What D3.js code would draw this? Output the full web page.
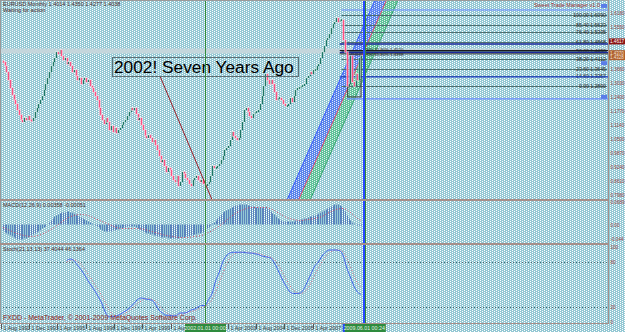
<!DOCTYPE html>
<html><head><meta charset="utf-8">
<script src="https://cdn.jsdelivr.net/npm/d3@7"></script>
<style>html,body{margin:0;padding:0;background:#fff;overflow:hidden}svg{display:block}</style>
</head><body>
<script>
// ---------------- DATA ----------------
// Monthly EURUSD closes, Jul 1992 .. Jun 2009 (index 0..202)
const firstOpen = 1.40;
const closes = [1.397,1.379,1.352,1.316,1.280,1.249,1.226,1.208,1.181,1.159,
1.136,1.127,1.145,1.136,1.154,1.136,1.132,1.145,1.172,1.190,
1.208,1.226,1.244,1.271,1.298,1.325,1.352,1.379,1.397,1.415,
1.442,1.433,1.451,1.424,1.406,1.415,1.388,1.397,1.379,1.352,
1.361,1.334,1.316,1.325,1.298,1.316,1.325,1.307,1.316,1.289,
1.280,1.262,1.244,1.226,1.190,1.159,1.136,1.118,1.145,1.127,
1.091,1.109,1.082,1.100,1.077,1.091,1.100,1.114,1.127,1.136,
1.154,1.172,1.190,1.181,1.190,1.163,1.136,1.145,1.114,1.091,
1.064,1.055,1.068,1.055,1.037,1.046,1.023,1.001,0.974,0.947,
0.956,0.929,0.902,0.920,0.911,0.884,0.866,0.857,0.884,0.839,
0.857,0.902,0.893,0.875,0.866,0.848,0.839,0.866,0.875,0.884,
0.866,0.857,0.866,0.848,0.839,0.848,0.857,0.884,0.929,0.920,
0.920,0.929,0.938,0.956,0.974,1.001,1.010,1.019,1.046,1.082,
1.064,1.055,1.046,1.055,1.091,1.127,1.181,1.190,1.172,1.154,
1.145,1.163,1.172,1.172,1.181,1.208,1.244,1.289,1.343,1.316,
1.298,1.316,1.298,1.262,1.226,1.235,1.235,1.226,1.208,1.199,
1.199,1.208,1.235,1.217,1.244,1.271,1.280,1.280,1.289,1.289,
1.298,1.325,1.334,1.352,1.343,1.361,1.361,1.379,1.388,1.415,
1.442,1.469,1.496,1.505,1.523,1.550,1.568,1.577,1.595,1.577,
1.586,1.586,1.496,1.442,1.289,1.298,1.424,1.307,1.289,1.343,
1.316,1.415,1.424];

// MACD main (histogram), in thousandths
const macdHist = [-18,-24,-27,-30,-33,-36,-39,-42,-45,-45,-45,-45,
-42,-42,-39,-36,-33,-30,-27,-24,-21,-18,-12,-9,
-6,0,6,12,18,24,27,30,33,36,36,36,
39,39,36,36,33,30,27,24,21,18,15,12,
9,6,3,0,-3,-6,-9,-15,-18,-21,-21,-21,
-21,-21,-18,-18,-15,-15,-12,-12,-9,-9,-6,-6,
-6,-6,-6,-9,-12,-15,-18,-21,-24,-27,-27,-30,
-30,-33,-33,-36,-36,-39,-39,-39,-39,-42,-42,-42,
-42,-42,-42,-42,-39,-39,-39,-36,-36,-36,-33,-33,
-30,-30,-27,-27,-24,-24,-15,-12,-9,-3,3,6,
12,18,24,30,36,39,42,45,48,51,54,57,
57,60,60,60,60,60,57,57,54,54,51,51,
51,51,51,51,51,48,45,39,33,30,24,18,
15,12,9,9,9,9,9,9,9,12,12,12,
15,15,18,18,21,24,24,27,27,30,33,36,
39,42,45,48,51,54,57,60,60,60,57,54,
48,39,27,18,12,6,3,0,-3,-3,-3];
// MACD signal [month index, thousandths]
const macdSignal = [[0,-9],[4,-18],[8,-27],[12,-33],[16,-36],[20,-33],[24,-24],[28,-12],[32,3],[36,18],
[40,27],[44,30],[48,27],[52,18],[56,9],[60,0],[64,-9],[68,-12],[72,-12],[76,-12],
[80,-15],[84,-21],[88,-27],[92,-33],[96,-36],[100,-39],[104,-39],[108,-36],[112,-33],[116,-24],
[120,-12],[124,3],[128,21],[132,36],[136,45],[140,51],[144,51],[148,51],[152,45],[156,33],
[160,21],[164,15],[168,12],[172,15],[176,18],[180,24],[184,36],[188,45],[192,48],[196,36],
[200,18],[202,12]];

// Stochastic [month index, main, signal]
const stoch = [[36,82,80],[38,84,82],[40,82,83],[42,76,81],[44,70,77],[46,63,71],[48,55,64],[50,48,57],
[52,41,49],[54,33,42],[56,24,34],[58,12,25],[60,7,16],[62,7,10],[64,8,8],[66,10,8],[68,13,10],
[70,16,13],[72,20,16],[74,25,20],[76,30,25],[78,32,28],[80,31,31],[82,30,31],[84,29,30],[86,24,28],
[88,16,23],[90,12,17],[92,9,13],[94,9,10],[96,8,9],[98,9,9],[100,12,10],[102,12,11],[104,13,12],
[106,16,14],[108,17,15],[110,20,17],[112,22,19],[114,22,21],[116,30,24],[118,38,30],[120,55,40],
[122,66,52],[124,80,64],[126,88,76],[128,92,85],[130,93,90],[132,93,92],[134,93,93],[136,93,93],
[138,92,93],[140,92,92],[142,91,92],[144,90,91],[146,88,90],[148,87,88],[150,86,87],[152,83,85],
[154,75,81],[156,65,74],[158,55,65],[160,47,56],[162,40,48],[164,38,42],[166,38,39],[168,39,38],
[170,45,40],[172,55,45],[174,65,53],[176,75,63],[178,80,72],[180,88,80],[182,93,87],[184,96,92],
[186,96,95],[188,96,96],[190,95,96],[192,88,93],[194,72,85],[196,60,74],[198,48,62],[200,40,52],[202,37,46]];

// axis labels
const priceTicks = [1.618,1.555,1.366,1.303,1.240,1.177,1.114,1.050,0.987,0.924,0.861,0.798];
const macdTicks = [0.0689,0,-0.0441];
const macdTickText = ["0.0689","0.00","-0.044"];
const stochTicks = [100,80,20,0];
const dateTickIdx = [1,17,33,49,65,81,97,129,145,161,177];
const dateTickText = ["1 Aug 1992","1 Dec 1993","1 Apr 1995","1 Aug 1996","1 Dec 1997","1 Apr 1999","1 Aug 2000","1 Apr 2003","1 Aug 2004","1 Dec 2005","1 Apr 2007"];

// drawn objects
const fibHigh = 1.609, fibLow = 1.289;
const fibLevels = [100,85.4,76.4,61.8,50,38.2,23.6,14.6,0];
const tradeLines = [
  {p:1.6315, c:"#6a8cff", w:1.2, from:191},
  {p:1.4784, c:"#1c2a9c", w:1.5, from:190},
  {p:1.4491, c:"#1a1a1a", w:1, from:190},
  {p:1.4410, c:"#1c2a9c", w:1.2, from:190},
  {p:1.4340, c:"#2a2a2a", w:1, from:190},
  {p:1.3300, c:"#2244cc", w:1.2, from:190},
  {p:1.2310, c:"#6a8cff", w:1.2, from:194}
];
const greyBandPrice = 1.4468;
const trendLine = [[88.6,1.334],[118.0,0.776]];
const channel = {i0:160.3, p0:0.776, i1:209.9, p1:1.677};
const channelOffsets = [0, 6.5, 13];
const vLines = [{i:114,c:"#2e8b3e",w:1},{i:203,c:"#2648ff",w:2},{i:204.2,c:"#2e8b3e",w:1}];

// ---------------- CHART ----------------
const W = 625, H = 332;
const svg = d3.select("body").append("svg").attr("width", W).attr("height", H);
const defs = svg.append("defs");
const pat = defs.append("pattern").attr("id","bg").attr("width",4).attr("height",2).attr("patternUnits","userSpaceOnUse");
pat.append("rect").attr("width",4).attr("height",2).attr("fill","#94c8d4");
pat.append("rect").attr("x",0).attr("y",0).attr("width",1).attr("height",1).attr("fill","#ffffff");
pat.append("rect").attr("x",2).attr("y",1).attr("width",1).attr("height",1).attr("fill","#ffffff");
const dpat = defs.append("pattern").attr("id","dots").attr("width",4).attr("height",2).attr("patternUnits","userSpaceOnUse");
dpat.append("rect").attr("x",0).attr("y",0).attr("width",1).attr("height",1).attr("fill","#ffffff").attr("opacity",0.8);
dpat.append("rect").attr("x",2).attr("y",1).attr("width",1).attr("height",1).attr("fill","#ffffff").attr("opacity",0.8);
defs.append("clipPath").attr("id","cMain").append("rect").attr("x",0).attr("y",1).attr("width",608).attr("height",198);
defs.append("clipPath").attr("id","cMacd").append("rect").attr("x",0).attr("y",201).attr("width",608).attr("height",42);
defs.append("clipPath").attr("id","cSto").append("rect").attr("x",0).attr("y",245).attr("width",608).attr("height",78);

svg.append("rect").attr("width",W).attr("height",H).attr("fill","url(#bg)");

const x = d3.scaleLinear().domain([0,202]).range([2.9,361]);
const yP = d3.scaleLinear().domain([0.80,1.60]).range([194.6,17]);
const yM = d3.scaleLinear().domain([-0.054,0.072]).range([242.5,200.5]);
const yS = d3.scaleLinear().domain([0,100]).range([322,247]);
const FONT = "'Liberation Sans', Arial, sans-serif";

const gMain = svg.append("g").attr("clip-path","url(#cMain)");

// grey horizontal band
gMain.append("line").attr("x1",0).attr("x2",608).attr("y1",yP(greyBandPrice)).attr("y2",yP(greyBandPrice))
  .attr("stroke","#c4d6dc").attr("stroke-width",5);

// channels
function chanPt(off, which){
  const i = which===0 ? channel.i0 + off : channel.i1 + off;
  const p = which===0 ? channel.p0 : channel.p1;
  return [x(i), yP(p)];
}
const bandCols = ["#4f78ee","#55c08e"];
for (let k=0;k<2;k++){
  const a0 = chanPt(channelOffsets[k],0), a1 = chanPt(channelOffsets[k],1);
  const b0 = chanPt(channelOffsets[k+1],0), b1 = chanPt(channelOffsets[k+1],1);
  const pts = [a0,a1,b1,b0];
  gMain.append("polygon").attr("points",pts.map(p=>p.join(",")).join(" ")).attr("fill",bandCols[k]).attr("opacity",0.85);
  gMain.append("polygon").attr("points",pts.map(p=>p.join(",")).join(" ")).attr("fill","url(#dots)");
}
const edgeCols = ["#3a5cff","#e04a70","#3aa870"];
channelOffsets.forEach((o,k)=>{
  const a = chanPt(o,0), b = chanPt(o,1);
  gMain.append("line").attr("x1",a[0]).attr("y1",a[1]).attr("x2",b[0]).attr("y2",b[1])
    .attr("stroke",edgeCols[k]).attr("stroke-width",1);
});

// fib lines
const fibG = gMain.append("g");
fibLevels.forEach(f=>{
  const p = fibLow + (fibHigh-fibLow)*f/100;
  const yy = Math.round(yP(p))+0.5;
  fibG.append("line").attr("x1",x(191)).attr("x2",607).attr("y1",yy).attr("y2",yy)
    .attr("stroke","#4f6f70").attr("stroke-width",1);
  fibG.append("text").attr("x",589).attr("y",yy+1.8).attr("text-anchor","end")
    .attr("font-family",FONT).attr("font-size",5.2).attr("fill","#2a2a2a").text(f.toFixed(2));
  fibG.append("text").attr("x",606).attr("y",yy+1.8).attr("text-anchor","end")
    .attr("font-family",FONT).attr("font-size",5.2).attr("fill","#2a2a2a").text(p.toFixed(4));
});
tradeLines.forEach(t=>{
  gMain.append("line").attr("x1",x(t.from)).attr("x2",608).attr("y1",yP(t.p)).attr("y2",yP(t.p))
    .attr("stroke",t.c).attr("stroke-width",t.w);
});
gMain.append("text").attr("x",366).attr("y",yP(1.4491)+0.5).attr("font-family",FONT).attr("font-size",4.3).attr("fill","#1a1a1a").text("RSI 41.90%  1.4520");
gMain.append("text").attr("x",366).attr("y",yP(1.4340)+2.5).attr("font-family",FONT).attr("font-size",4.3).attr("fill","#1a1a1a").text("RSI 45.80%  1.4398");
// small squares
[[1.650],[1.392],[1.2405]].forEach(d=>{
  gMain.append("rect").attr("x",601).attr("y",yP(d[0])-2).attr("width",6).attr("height",4).attr("fill","#5a7ce8");
});
gMain.append("text").attr("x",600).attr("y",7).attr("text-anchor","end").attr("font-family",FONT)
  .attr("font-size",5.5).attr("fill","#a03030").text("Sweet Trade Manager v1.0");

// box around recent bars
gMain.append("rect").attr("x",x(194.5)).attr("y",yP(1.43)).attr("width",x(202)-x(194.5)).attr("height",yP(1.24)-yP(1.43))
  .attr("fill","none").attr("stroke","#3c3c3c").attr("stroke-width",1);

// candles
const cg = gMain.append("g");
closes.forEach((c,i)=>{
  const o = i===0 ? firstOpen : closes[i-1];
  const up = c >= o;
  const xx = Math.round(x(i))+0.5;
  let y1 = yP(o), y2 = yP(c);
  if (Math.abs(y1-y2) < 1.5){ const m=(y1+y2)/2; y1=m-0.9; y2=m+0.9; }
  cg.append("line").attr("x1",xx).attr("x2",xx).attr("y1",y1-1).attr("y2",y2+ (y2>y1?1:-1))
    .attr("stroke", up ? "#d6f2ea" : "#ffd6e2").attr("stroke-width",3).attr("opacity",0.55);
  cg.append("line").attr("x1",xx).attr("x2",xx).attr("y1",y1).attr("y2",y2)
    .attr("stroke", up ? "#1f7565" : "#ff4f82").attr("stroke-width",1.3);
});

// trend line
gMain.append("line").attr("x1",x(trendLine[0][0])).attr("y1",yP(trendLine[0][1]))
  .attr("x2",x(trendLine[1][0])).attr("y2",yP(trendLine[1][1])).attr("stroke","#9a1e28").attr("stroke-width",1);

// annotation
const ann = svg.append("g");
ann.append("rect").attr("x",112.5).attr("y",57.5).attr("width",186).attr("height",19)
  .attr("fill","none").attr("stroke","#5f7075").attr("stroke-width",1);
ann.append("text").attr("x",114).attr("y",73).attr("font-family",FONT).attr("font-size",17.3)
  .attr("fill","#000").text("2002! Seven Years Ago");

// title
svg.append("text").attr("x",3).attr("y",6).attr("font-family",FONT).attr("font-size",5.5).attr("fill","#4a2a2a")
  .text("EURUSD,Monthly  1.4014 1.4350 1.4277 1.4038");
svg.append("text").attr("x",3).attr("y",12).attr("font-family",FONT).attr("font-size",5.5).attr("fill","#4a2a2a")
  .text("Waiting for action");

// ---------------- MACD ----------------
const gM = svg.append("g").attr("clip-path","url(#cMacd)");
macdHist.forEach((v,i)=>{
  const val = v/1000;
  const xx = Math.round(x(i));
  gM.append("rect").attr("x",xx).attr("width",1)
    .attr("y",Math.min(yM(0),yM(val))).attr("height",Math.abs(yM(val)-yM(0)))
    .attr("fill","#5a84bd");
});
gM.append("path").datum(macdSignal)
  .attr("d",d3.line().x(d=>x(d[0])).y(d=>yM(d[1]/1000)).curve(d3.curveMonotoneX))
  .attr("fill","none").attr("stroke","#d8405e").attr("stroke-width",1).attr("stroke-dasharray","1,2");
svg.append("text").attr("x",3).attr("y",207).attr("font-family",FONT).attr("font-size",5.5).attr("fill","#4a2a2a")
  .text("MACD(12,26,9) 0.00358 -0.00051");

// ---------------- STOCH ----------------
const gS = svg.append("g").attr("clip-path","url(#cSto)");
[80,20].forEach(l=>{
  gS.append("line").attr("x1",0).attr("x2",608).attr("y1",Math.round(yS(l))+0.5).attr("y2",Math.round(yS(l))+0.5)
    .attr("stroke","#4a6a70").attr("stroke-width",1).attr("stroke-dasharray","1,2");
});
gS.append("path").datum(stoch)
  .attr("d",d3.line().x(d=>x(d[0])).y(d=>yS(d[2])).curve(d3.curveMonotoneX))
  .attr("fill","none").attr("stroke","#d8607a").attr("stroke-width",1).attr("stroke-dasharray","1,2");
gS.append("path").datum(stoch)
  .attr("d",d3.line().x(d=>x(d[0])).y(d=>yS(d[1])).curve(d3.curveMonotoneX))
  .attr("fill","none").attr("stroke","#4466ee").attr("stroke-width",1);
svg.append("text").attr("x",3).attr("y",251).attr("font-family",FONT).attr("font-size",5.5).attr("fill","#4a2a2a")
  .text("Stoch(21,13,13) 37.4044 46.1364");
svg.append("text").attr("x",3).attr("y",320).attr("font-family",FONT).attr("font-size",7).attr("fill","#8a2020")
  .text("FXDD - MetaTrader, \u00A9 2001-2009 MetaQuotes Software Corp.");

// ---------------- vertical lines ----------------
vLines.forEach(v=>{
  const xx = v.w===1 ? Math.round(x(v.i))+0.5 : Math.round(x(v.i))+1;
  svg.append("line").attr("x1",xx).attr("x2",xx).attr("y1",0).attr("y2",323)
    .attr("stroke",v.c).attr("stroke-width",v.w);
});

// ---------------- frames ----------------
const frameC = "#a58f8a";
svg.append("rect").attr("x",0).attr("y",0).attr("width",608).attr("height",1).attr("fill","#9a9a9a");
svg.append("rect").attr("x",0).attr("y",0).attr("width",1).attr("height",323).attr("fill","#9a9a9a");
svg.append("rect").attr("x",0).attr("y",199).attr("width",608).attr("height",2).attr("fill",frameC);
svg.append("rect").attr("x",0).attr("y",243).attr("width",608).attr("height",2).attr("fill",frameC);
svg.append("rect").attr("x",0).attr("y",323).attr("width",608).attr("height",1).attr("fill",frameC);
svg.append("rect").attr("x",608).attr("y",0).attr("width",1).attr("height",324).attr("fill",frameC);

// ---------------- right axis ----------------
const axC = "#9a4444";
priceTicks.forEach(p=>{
  svg.append("text").attr("x",610.5).attr("y",yP(p)+2).attr("font-family",FONT).attr("font-size",4.6).attr("fill",axC).text(p.toFixed(4));
});
macdTicks.forEach((v,k)=>{
  svg.append("text").attr("x",610.5).attr("y",yM(v)+2).attr("font-family",FONT).attr("font-size",4.6).attr("fill",axC).text(macdTickText[k]);
});
stochTicks.forEach(v=>{
  svg.append("text").attr("x",610.5).attr("y",yS(v)+2).attr("font-family",FONT).attr("font-size",4.6).attr("fill",axC).text(v);
});
// price boxes
svg.append("rect").attr("x",609).attr("y",yP(1.490)-3).attr("width",16).attr("height",6).attr("fill","#8b1414");
svg.append("text").attr("x",610).attr("y",yP(1.490)+2).attr("font-family",FONT).attr("font-size",4.6).attr("fill","#fff").text("1.4617");
svg.append("rect").attr("x",609).attr("y",yP(1.4505)).attr("width",16).attr("height",10).attr("fill","#b0602e");
svg.append("text").attr("x",610).attr("y",yP(1.4505)+4.5).attr("font-family",FONT).attr("font-size",4.5).attr("fill","#f4e4d4").text("1.4370");
svg.append("text").attr("x",610).attr("y",yP(1.4505)+9).attr("font-family",FONT).attr("font-size",4.5).attr("fill","#f4e4d4").text("1.4328");

// ---------------- bottom axis ----------------
const boxL1 = x(114)-20, boxL2 = x(203)-20;
defs.append("clipPath").attr("id","cDates").append("rect").attr("x",0).attr("y",323).attr("width",boxL1).attr("height",9);
defs.append("clipPath").attr("id","cDates2").append("rect").attr("x",boxL1+41).attr("y",323).attr("width",boxL2-boxL1-41).attr("height",9);
dateTickIdx.forEach((i,k)=>{
  const xx = Math.round(x(i))-3.5;
  const cp = xx < boxL1 ? "url(#cDates)" : "url(#cDates2)";
  svg.append("line").attr("x1",xx).attr("x2",xx).attr("y1",324).attr("y2",329).attr("stroke","#555").attr("stroke-width",1);
  svg.append("g").attr("clip-path",cp).append("text").attr("x",xx+2).attr("y",330).attr("font-family",FONT).attr("font-size",5.3).attr("fill","#3a3a3a").text(dateTickText[k]);
});
svg.append("rect").attr("x",boxL1).attr("y",324).attr("width",41).attr("height",8).attr("fill","#2e8b3e");
svg.append("text").attr("x",x(114)).attr("y",330.2).attr("text-anchor","middle").attr("font-family",FONT).attr("font-size",5.3).attr("fill","#e8f4e8").text("2002.01.01 00:00");
svg.append("rect").attr("x",boxL2).attr("y",324).attr("width",43).attr("height",8).attr("fill","#2e8b3e");
svg.append("rect").attr("x",boxL2).attr("y",324).attr("width",2).attr("height",8).attr("fill","#2648ff");
svg.append("text").attr("x",x(203)+1.5).attr("y",330.2).attr("text-anchor","middle").attr("font-family",FONT).attr("font-size",5.3).attr("fill","#e8f4e8").text("2009.06.01 00:24");
</script>
</body></html>
